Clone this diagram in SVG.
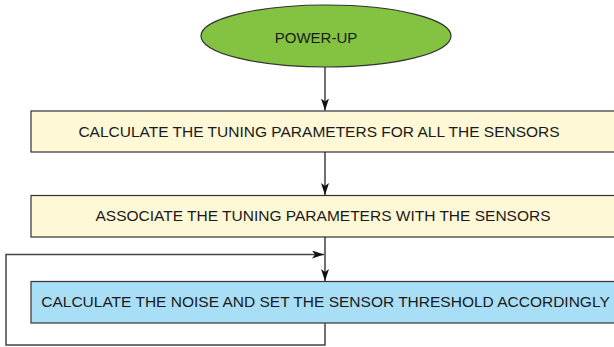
<svg xmlns="http://www.w3.org/2000/svg" width="614" height="347" viewBox="0 0 614 347">
<defs>
<style>
.box{stroke:#333;stroke-width:1.2}
.y{fill:#FEF8D6}
.b{fill:#A9DEF7}
.t{font-family:"Liberation Sans",Arial,sans-serif;font-size:15.5px;fill:#1a1a1a;text-anchor:middle}
.c{fill:none;stroke:#111;stroke-width:1.2}
.loop{fill:none;stroke:#444;stroke-width:1.5}
</style>
<marker id="ah" markerWidth="12" markerHeight="8" refX="12" refY="4" orient="auto" markerUnits="userSpaceOnUse">
<path d="M0,0 L12,4 L0,8 L3,4 Z" fill="#111"/>
</marker>
</defs>
<rect width="614" height="347" fill="#fff"/>
<g id="power-up">
<ellipse cx="326" cy="36" rx="125" ry="31" fill="#84C341" stroke="#333" stroke-width="1.2"/>
<text class="t" x="316" y="43" style="font-size:15px">POWER-UP</text>
</g>
<g id="calc-tuning">
<rect class="box y" x="31" y="111" width="600" height="41"/>
<text class="t" x="319" y="137">CALCULATE THE TUNING PARAMETERS FOR ALL THE SENSORS</text>
</g>
<g id="associate">
<rect class="box y" x="31" y="195.5" width="600" height="41.5"/>
<text class="t" x="323" y="221">ASSOCIATE THE TUNING PARAMETERS WITH THE SENSORS</text>
</g>
<g id="calc-noise">
<rect class="box b" x="31" y="281.5" width="600" height="41.5"/>
<text class="t" x="325.5" y="307">CALCULATE THE NOISE AND SET THE SENSOR THRESHOLD ACCORDINGLY</text>
</g>
<g id="connectors">
<line class="c" x1="325" y1="67" x2="325" y2="110.5" marker-end="url(#ah)"/>
<line class="c" x1="325" y1="152" x2="325" y2="195" marker-end="url(#ah)"/>
<line class="c" x1="325" y1="237" x2="325" y2="281" marker-end="url(#ah)"/>
<polyline class="loop" points="325,323 325,345 6,345 6,254.5 324,254.5" marker-end="url(#ah)"/>
</g>
</svg>
